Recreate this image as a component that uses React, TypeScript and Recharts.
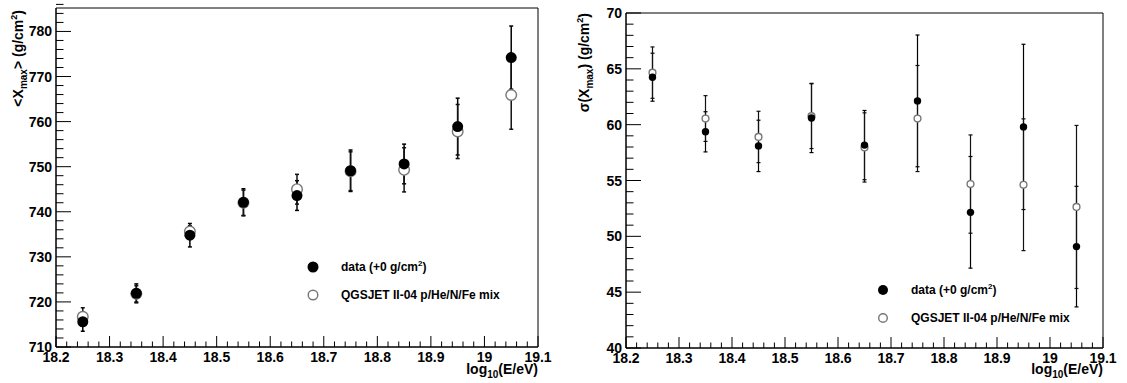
import React from 'react';
import {
  ScatterChart,
  Scatter,
  XAxis,
  YAxis,
  ErrorBar,
  ReferenceArea,
  Legend,
} from 'recharts';

// energy bins, log10(E/eV)
const energy = [18.25, 18.35, 18.45, 18.55, 18.65, 18.75, 18.85, 18.95, 19.05];

// <Xmax> (g/cm2)
const xmaxData = [715.6, 721.9, 734.8, 742.1, 743.6, 749.1, 750.6, 758.9, 774.2];
const xmaxDataErr = [2.1, 2.1, 2.6, 3.0, 3.3, 4.6, 4.4, 6.3, 7.0];
const xmaxModel = [716.7, 721.8, 735.6, 742.0, 745.0, 749.0, 749.3, 757.8, 765.9];
const xmaxModelErr = [2.0, 1.8, 1.3, 2.8, 3.3, 4.3, 4.9, 6.0, 7.6];

// sigma(Xmax) (g/cm2)
const sigmaData = [64.25, 59.36, 58.1, 60.6, 58.17, 62.13, 52.15, 59.8, 49.08];
const sigmaDataErr = [2.15, 1.8, 2.3, 3.1, 3.1, 5.9, 5.0, 7.4, 5.4];
const sigmaModel = [64.66, 60.55, 58.9, 60.76, 57.96, 60.55, 54.68, 54.62, 52.63];
const sigmaModelErr = [2.3, 2.05, 2.3, 2.9, 3.1, 4.75, 4.4, 5.9, 7.3];

// axis ticks (labelled ones)
const xMajorTicks = [18.2, 18.3, 18.4, 18.5, 18.6, 18.7, 18.8, 18.9, 19, 19.1];
const xmaxMajorTicks = [710, 720, 730, 740, 750, 760, 770, 780];
const sigmaMajorTicks = [40, 45, 50, 55, 60, 65, 70];

const legendLabels = ['data (+0 g/cm', 'QGSJET II-04 p/He/N/Fe mix'];

const FONT = "'Liberation Sans', Arial, Helvetica, sans-serif";

const steps = (from: number, to: number, step: number) => {
  const out: number[] = [];
  const n = Math.round((to - from) / step);
  for (let i = 0; i <= n; i++) out.push(Math.round((from + i * step) * 1000) / 1000);
  return out;
};

const isMajor = (v: number, majors: number[]) => majors.some((m) => Math.abs(m - v) < 1e-6);

const rows = (vals: number[], errs: number[]) =>
  energy.map((x, i) => ({ x, y: vals[i], err: errs[i] }));

const makeXTick = (majors: number[]) => (props: any) => {
  const { x, y, payload } = props;
  const major = isMajor(payload.value, majors);
  return (
    <g>
      <line x1={x} x2={x} y1={y} y2={y - (major ? 11 : 5.5)} stroke="#000" strokeWidth={1} />
      {major && (
        <text x={x} y={y + 15} textAnchor="middle" fontFamily={FONT} fontWeight="bold" fontSize={14} fill="#000">
          {String(payload.value)}
        </text>
      )}
    </g>
  );
};

const makeYTick = (majors: number[]) => (props: any) => {
  const { x, y, payload } = props;
  const major = isMajor(payload.value, majors);
  return (
    <g>
      <line x1={x} x2={x + (major ? 15 : 7.5)} y1={y} y2={y} stroke="#000" strokeWidth={1} />
      {major && (
        <text x={x - 4} y={y + 5} textAnchor="end" fontFamily={FONT} fontWeight="bold" fontSize={14} fill="#000">
          {String(payload.value)}
        </text>
      )}
    </g>
  );
};

interface PanelProps {
  width: number;
  margin: { top: number; right: number; bottom: number; left: number };
  yAxisWidth: number;
  xAxisHeight: number;
  yDomain: [number, number];
  yStep: number;
  yMajor: number[];
  data: { x: number; y: number; err: number }[];
  model: { x: number; y: number; err: number }[];
  dotR: number;
  openR: number;
  barWidth: number;
  yTitle: React.ReactNode;
  yTitleX: number;
  yTitleY: number;
  legendPos: { left: number; top: number };
  legendR: number;
}

const Panel: React.FC<PanelProps> = (p) => {
  const plotRight = p.width - p.margin.right;
  return (
    <ScatterChart width={p.width} height={383} margin={p.margin}>
      <XAxis
        type="number"
        dataKey="x"
        domain={[18.2, 19.1]}
        ticks={steps(18.2, 19.1, 0.02)}
        interval={0}
        tickSize={0}
        tickMargin={0}
        height={p.xAxisHeight}
        axisLine={{ stroke: '#000', strokeWidth: 1 }}
        tickLine={false}
        tick={makeXTick(xMajorTicks)}
        allowDataOverflow
        label={{
          content: () => (
            <text x={plotRight} y={374} textAnchor="end" fontFamily={FONT} fontWeight="bold" fontSize={14} fill="#000">
              log<tspan fontSize={10} dy={4}>10</tspan>
              <tspan dy={-4}>(E/eV)</tspan>
            </text>
          ),
        }}
      />
      <YAxis
        type="number"
        dataKey="y"
        domain={p.yDomain}
        ticks={steps(p.yDomain[0], Math.floor(p.yDomain[1]), p.yStep)}
        interval={0}
        tickSize={0}
        tickMargin={0}
        width={p.yAxisWidth}
        axisLine={{ stroke: '#000', strokeWidth: 1 }}
        tickLine={false}
        tick={makeYTick(p.yMajor)}
        allowDataOverflow
        label={{
          content: () => (
            <text
              x={p.yTitleX}
              y={p.yTitleY}
              transform={`rotate(-90, ${p.yTitleX}, ${p.yTitleY})`}
              textAnchor="end"
              fontFamily={FONT}
              fontWeight="bold"
              fontSize={14}
              fill="#000"
            >
              {p.yTitle}
            </text>
          ),
        }}
      />
      <ReferenceArea
        x1={18.2}
        x2={19.1}
        y1={p.yDomain[0]}
        y2={p.yDomain[1]}
        fill="none"
        stroke="#000"
        strokeWidth={1}
        ifOverflow="visible"
      />
      <Legend
        layout="vertical"
        align="center"
        verticalAlign="middle"
        wrapperStyle={{ position: 'absolute', left: p.legendPos.left, top: p.legendPos.top, width: 240, height: 60 }}
        content={() => (
          <svg width={240} height={60}>
            <circle cx={14} cy={14} r={p.legendR} fill="#000" />
            <circle cx={14} cy={42} r={p.legendR - 0.7} fill="#fff" stroke="#777" strokeWidth={1.4} />
            <text x={42} y={18} fontFamily={FONT} fontWeight="bold" fontSize={12} fill="#000">
              {legendLabels[0]}
              <tspan fontSize={8} dy={-5}>2</tspan>
              <tspan dy={5}>)</tspan>
            </text>
            <text x={42} y={46} fontFamily={FONT} fontWeight="bold" fontSize={12} fill="#000">
              {legendLabels[1]}
            </text>
          </svg>
        )}
      />
      <Scatter
        name="data-errors"
        data={p.data}
        legendType="none"
        isAnimationActive={false}
        shape={() => <g />}
      >
        <ErrorBar dataKey="err" direction="y" width={2} stroke="#000" strokeWidth={p.barWidth} isAnimationActive={false} />
      </Scatter>
      <Scatter
        name="QGSJET II-04 p/He/N/Fe mix"
        data={p.model}
        isAnimationActive={false}
        shape={(s: any) => (
          <circle cx={s.cx} cy={s.cy} r={p.openR} fill="#fff" stroke="#777" strokeWidth={1.4} />
        )}
      >
        <ErrorBar dataKey="err" direction="y" width={2} stroke="#111" strokeWidth={p.barWidth} isAnimationActive={false} />
      </Scatter>
      <Scatter
        name="data"
        data={p.data}
        isAnimationActive={false}
        shape={(s: any) => <circle cx={s.cx} cy={s.cy} r={p.dotR} fill="#000" />}
      />
    </ScatterChart>
  );
};

const App: React.FC = () => {
  return (
    <div
      style={{
        position: 'absolute',
        left: 0,
        top: 0,
        width: 1127,
        height: 383,
        background: '#fff',
        fontFamily: FONT,
      }}
    >
      <div style={{ position: 'absolute', left: 0, top: 0 }}>
        <Panel
          width={560}
          margin={{ top: 8, right: 22, bottom: 0, left: 0 }}
          yAxisWidth={56}
          xAxisHeight={36}
          yDomain={[710, 785.2]}
          yStep={2}
          yMajor={xmaxMajorTicks}
          data={rows(xmaxData, xmaxDataErr)}
          model={rows(xmaxModel, xmaxModelErr)}
          dotR={5.5}
          openR={5.3}
          barWidth={1.5}
          yTitle={
            <>
              {'<X'}
              <tspan fontSize={10} dy={4}>max</tspan>
              <tspan dy={-4}>{'> (g/cm'}</tspan>
              <tspan fontSize={9} dy={-6}>2</tspan>
              <tspan dy={6}>)</tspan>
            </>
          }
          yTitleX={23}
          yTitleY={10}
          legendPos={{ left: 299, top: 253 }}
          legendR={5.5}
        />
      </div>
      <div style={{ position: 'absolute', left: 560, top: 0 }}>
        <Panel
          width={567}
          margin={{ top: 13, right: 24, bottom: 0, left: 0 }}
          yAxisWidth={66}
          xAxisHeight={35}
          yDomain={[40, 70]}
          yStep={1}
          yMajor={sigmaMajorTicks}
          data={rows(sigmaData, sigmaDataErr)}
          model={rows(sigmaModel, sigmaModelErr)}
          dotR={3.7}
          openR={3.4}
          barWidth={1.2}
          yTitle={
            <>
              {'σ(X'}
              <tspan fontSize={10} dy={4}>max</tspan>
              <tspan dy={-4}>{') (g/cm'}</tspan>
              <tspan fontSize={9} dy={-6}>2</tspan>
              <tspan dy={6}>)</tspan>
            </>
          }
          yTitleX={29}
          yTitleY={13}
          legendPos={{ left: 309, top: 276 }}
          legendR={5}
        />
      </div>
    </div>
  );
};

export default App;
